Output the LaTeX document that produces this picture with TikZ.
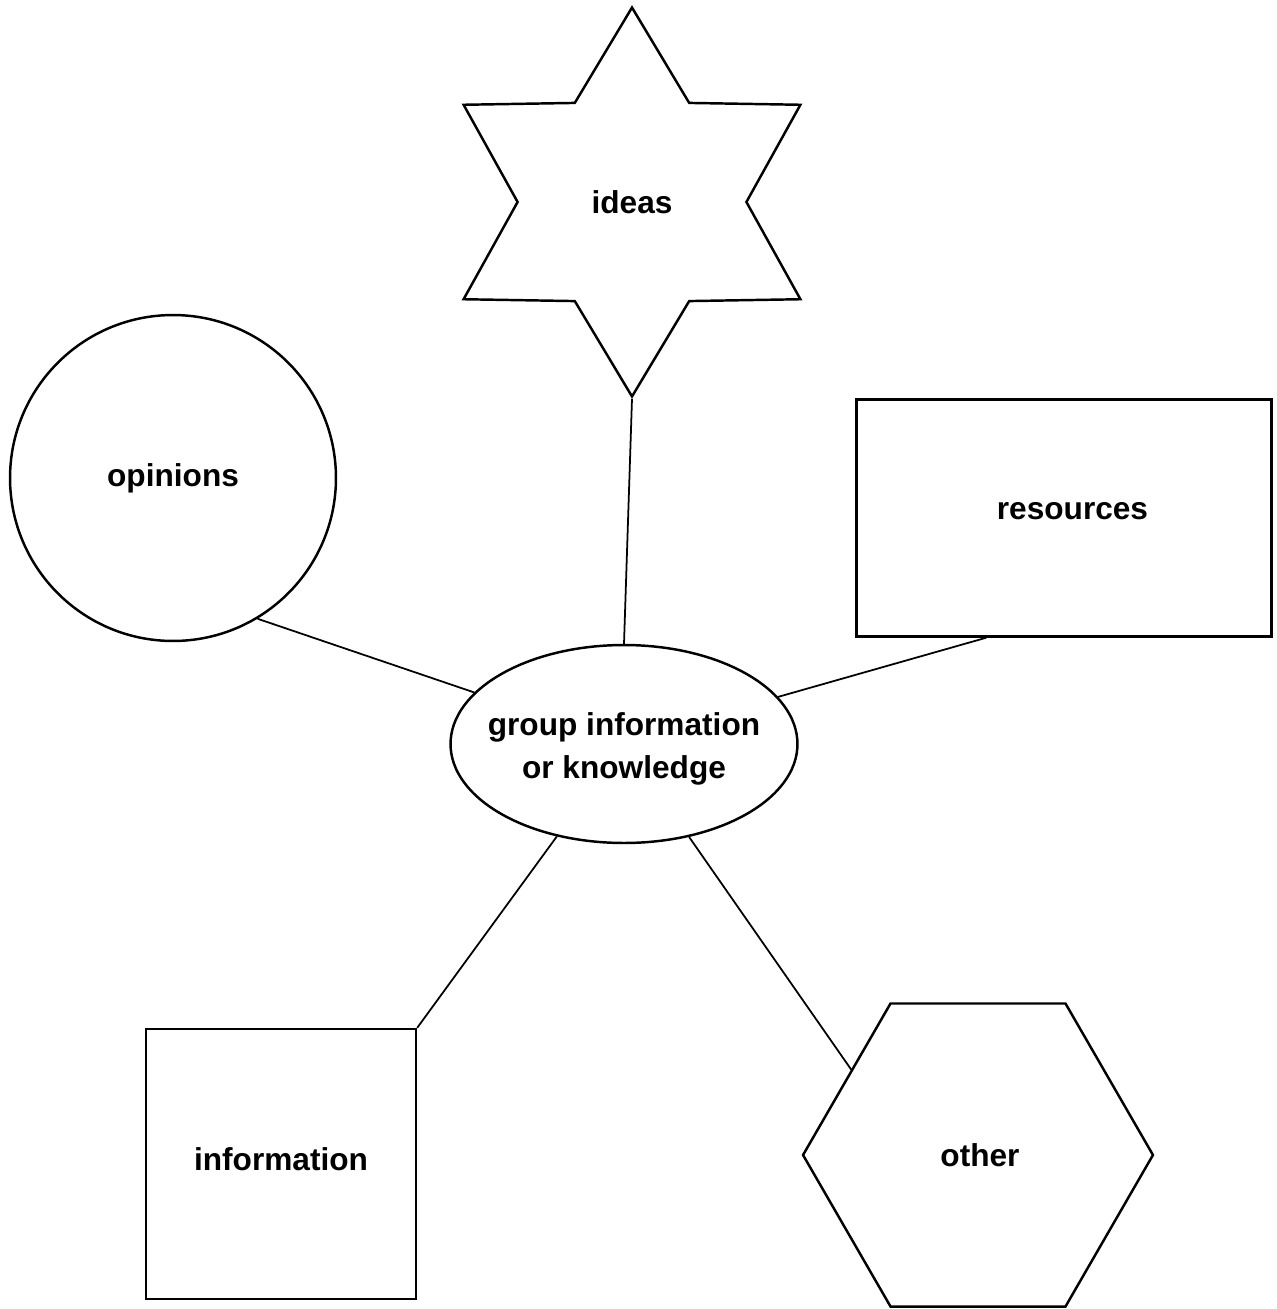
\documentclass[tikz,border=0pt]{standalone}
\usepackage{fontspec}
\setmainfont{Liberation Sans}
\usetikzlibrary{shapes.geometric}

\begin{document}
\begin{tikzpicture}[x=0.02cm, y=-0.02cm,
			blob/.style={draw=black, line width=1.4pt, inner sep=0pt,
				font=\fontsize{18}{24.5}\selectfont\bfseries},
			link/.style={draw=black, line width=1pt}]

			\useasboundingbox (0,0) rectangle (1276,1309);

			\node[blob, star, star points=6, star point ratio=1.7, minimum size=7.78cm] (ideas) at (632,202) {ideas};
			\node[blob, circle, minimum size=6.52cm] (opinions) at (173,478) {opinions};
			\node[blob, rectangle, minimum width=8.3cm, minimum height=4.74cm] (resources) at (1064,518) {\raisebox{0.3cm}{\hspace{0.34cm}resources}};
			\node[blob, ellipse, minimum width=6.94cm, minimum height=3.96cm,
				label={[font=\fontsize{18}{24.5}\selectfont\bfseries, align=center, yshift=-0.1cm]center:group information\\or knowledge}] (group) at (624,744) {};
			\node[blob, rectangle, minimum size=5.4cm] (information) at (281,1164) {\raisebox{0.2cm}{information}};
			\node[blob, regular polygon, regular polygon sides=6, minimum size=7cm] (other) at (978,1155) {\hspace{0.08cm}other};

			\draw[link] (ideas.outer point 4) -- (group.north);
			\draw[link] (opinions.-59) -- (group.161);
			\draw[link] (resources.-123) -- (group.17);
			\draw[link] (group.234) -- (information.north east);
			\draw[link] (group.-55) -- (other.146);
		\end{tikzpicture}
\end{document}
